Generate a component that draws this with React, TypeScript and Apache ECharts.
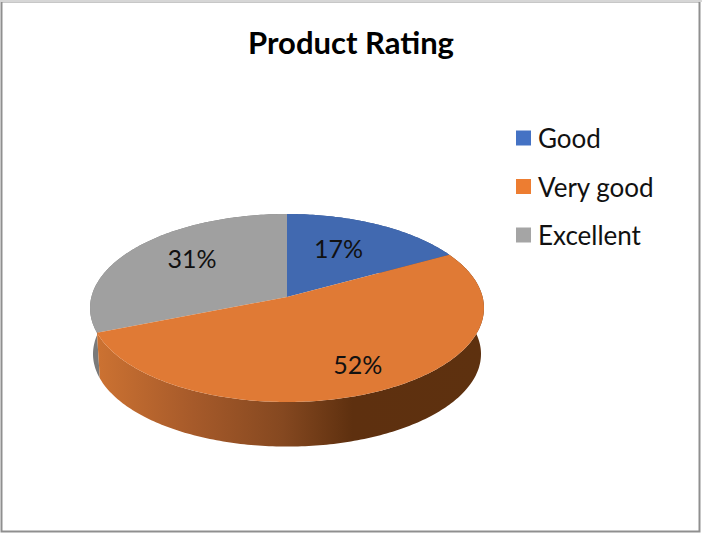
import React, { useEffect, useRef } from "react";
import * as echarts from "echarts";

const titleText = "Product Rating";
const categories = ["Good", "Very good", "Excellent"];
const percents = [17, 52, 31];
const legendColors = ["#4472C4", "#ED7D31", "#A5A5A5"];
const topColors = ["#4169B0", "#E07A35", "#A0A0A0"];

const FONT = "Lato";
const total = percents.reduce((a, b) => a + b, 0);
const starts = percents.map((_, i) => percents.slice(0, i).reduce((a, b) => a + b, 0));

// tilted-disc projection
const CX = 287, CY = 308, AX = 195.6, BY = 94, SHIFT = -11, PERSP = 0.117;
const DEPTH = 46, BOTTOM_SCALE = 0.985;
const labelRadii = [0.58, 0.75, 0.63];
const labelNudges = [[-3, -5], [3, -1], [3, -7]];

function project(theta: number, r: number, scale = 1, dy = 0): number[] {
  const u = Math.sin(theta) * r;
  const v = -Math.cos(theta) * r;
  const w = 1 - PERSP * v;
  return [CX + (scale * AX * u) / w, CY + dy + (scale * (BY * v + SHIFT)) / w];
}

function arc(from: number, to: number, scale = 1, dy = 0): number[][] {
  const n = Math.max(2, Math.ceil((to - from) * 60));
  const pts: number[][] = [];
  for (let i = 0; i <= n; i++) pts.push(project(from + ((to - from) * i) / n, 1, scale, dy));
  return pts;
}

const wallFills: any[] = [
  "#2F4F86",
  {
    type: "linear", x: 0, y: 0, x2: 1, y2: 0,
    colorStops: [
      { offset: 0, color: "#CC7232" },
      { offset: 0.25, color: "#A65A2A" },
      { offset: 0.48, color: "#854820" },
      { offset: 0.66, color: "#5E300F" },
      { offset: 1, color: "#5E310F" },
    ],
  },
  "#7A7A7A",
];

function renderSlice(index: number) {
  return (_: any, api: any) => {
    const a0 = (api.value(0) / total) * Math.PI * 2;
    const a1 = (api.value(1) / total) * Math.PI * 2;
    const mid = (a0 + a1) / 2;
    const top = arc(a0, a1);
    const bottom = arc(a0, a1, BOTTOM_SCALE, DEPTH).reverse();
    const lp = project(mid, labelRadii[index]);
    return {
      type: "group",
      children: [
        { type: "polygon", z2: 1, shape: { points: [...top, ...bottom] }, style: { fill: wallFills[index] } },
        { type: "polygon", z2: 2, shape: { points: [project(0, 0), ...top] }, style: { fill: topColors[index] } },
        {
          type: "text", z2: 3, x: lp[0] + labelNudges[index][0], y: lp[1] + labelNudges[index][1],
          style: {
            text: `${percents[index]}%`, fill: "#111", fontFamily: FONT, fontSize: 25,
            align: "center", verticalAlign: "middle",
          },
        },
      ],
    };
  };
}

export default function App() {
  const ref = useRef<HTMLDivElement>(null);
  useEffect(() => {
    const chart = echarts.init(ref.current!, null, { renderer: "svg" });
    chart.setOption({
      animation: false,
      backgroundColor: "#fff",
      title: {
        text: titleText, left: "center", top: 21, itemGap: 0,
        textStyle: { fontFamily: FONT, fontSize: 31, fontWeight: "bold", color: "#000" },
      },
      legend: {
        orient: "vertical", left: 511, top: 117, itemWidth: 15, itemHeight: 15, itemGap: 16.5,
        icon: "rect", data: categories,
        textStyle: { fontFamily: FONT, fontSize: 26, color: "#111", padding: [0, 0, 0, 2], lineHeight: 32 },
      },
      graphic: [
        {
          type: "rect", z: -1, shape: { x: 1.5, y: 1.5, width: 698, height: 530 },
          style: { fill: "none", stroke: "#8f8f8f", lineWidth: 2 },
        },
        {
          type: "rect", z: 0, shape: { x: 0, y: 0, width: 702, height: 2 },
          style: { fill: "#d6d6d6" },
        },
      ],
      series: categories.map((name, i) => ({
        type: "custom", name, coordinateSystem: "none", z: i === 0 ? 3 : i === 1 ? 4 : 2,
        itemStyle: { color: legendColors[i] },
        data: [[starts[i], starts[i] + percents[i]]],
        renderItem: renderSlice(i),
      })),
    });
    return () => chart.dispose();
  }, []);
  return <div ref={ref} style={{ position: "absolute", left: 0, top: 0, width: 702, height: 534 }} />;
}
